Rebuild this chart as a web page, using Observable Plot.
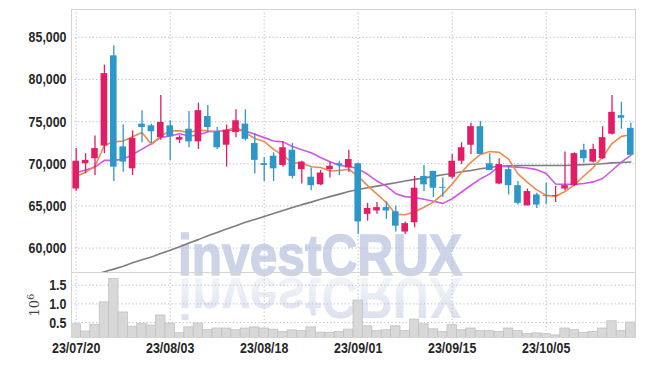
<!DOCTYPE html>
<html><head><meta charset="utf-8">
<script src="https://cdn.jsdelivr.net/npm/d3@7"></script>
<script src="https://cdn.jsdelivr.net/npm/@observablehq/plot@0.6"></script>
<style>
body{margin:0;background:#fff;}
#wrap{position:relative;width:645px;height:366px;overflow:hidden;background:#fff;}
#wrap svg{position:absolute;left:0;}
</style></head><body><div id="wrap"></div>
<script>
const dates = ["23/07/20","23/07/21","23/07/24","23/07/25","23/07/26","23/07/27","23/07/28","23/07/31",
"23/08/01","23/08/02","23/08/03","23/08/04","23/08/07","23/08/08","23/08/09","23/08/10","23/08/11","23/08/14","23/08/16","23/08/17","23/08/18",
"23/08/21","23/08/22","23/08/23","23/08/24","23/08/25","23/08/28","23/08/29","23/08/30","23/08/31",
"23/09/01","23/09/04","23/09/05","23/09/06","23/09/07","23/09/08","23/09/11","23/09/12","23/09/13","23/09/14","23/09/15",
"23/09/18","23/09/19","23/09/20","23/09/21","23/09/22","23/09/25","23/09/26","23/09/27",
"23/10/04","23/10/05","23/10/06","23/10/10","23/10/11","23/10/12","23/10/13","23/10/16","23/10/17","23/10/18","23/10/19"];
const open = [67000,70000,70600,72100,82800,72000,69400,74700,74500,73100,
74500,72800,74100,72600,75600,73800,72200,73700,74700,72400,
70000,70900,69800,71600,69300,68400,67500,69300,70000,69500,
70000,64000,64400,64800,64300,61900,63000,68500,69100,67200,
68400,70300,72200,74400,70000,67600,69300,67400,65000,66300,
66200,66100,67000,67400,71600,70200,70600,73500,75700,74200];
const high = [71800,71200,73300,81700,84000,74600,73900,76300,74700,78100,
75100,73300,76200,77200,76900,74300,74600,76400,76400,73600,
70700,71300,72600,72400,70300,69500,69200,70200,70300,71600,
70100,65300,65400,65500,65000,63100,68500,69800,69100,68300,
71100,72500,74800,75000,71200,70600,69800,67900,67000,66500,
67700,67300,71400,71300,72300,72300,74400,78100,77300,74800];
const low = [66700,68800,68600,71200,67900,69000,68600,72500,72400,72800,
70400,72400,71900,71700,73700,71700,69600,73100,72700,68800,
67900,67900,69600,68200,67600,66800,67400,68300,68600,69000,
61600,63200,64000,63400,61900,61600,62400,66700,66000,66000,
68200,69900,71100,71100,69200,67500,66300,65100,65000,64700,
65200,65400,66800,67300,70100,70100,70500,73400,74100,71000];
const close = [70300,70400,71800,80700,69600,70200,73000,74300,73800,74900,
73200,73100,72600,76300,74300,71900,74000,75100,72900,70400,
69800,69400,71900,68500,70200,67400,68900,69700,69800,70500,
63100,64700,64800,64400,62600,62900,67100,67500,67100,67100,
70300,71900,74400,71100,69200,69900,67400,65300,66700,65100,
66100,66200,67400,71200,70600,71700,73100,76100,75400,71000];
const volume = [455000,260000,440000,1040000,1670000,770000,390000,470000,420000,690000,
470000,215000,370000,470000,300000,340000,340000,295000,340000,370000,
340000,310000,250000,290000,270000,370000,230000,220000,250000,310000,
1090000,400000,270000,295000,400000,270000,580000,455000,320000,250000,
430000,295000,340000,270000,270000,250000,340000,270000,190000,210000,
190000,155000,340000,295000,220000,250000,340000,535000,280000,500000];
const ma5 = [68500,69000,69700,72200,72600,72700,73200,73700,72300,73300,
73900,73900,73700,74000,73900,73800,73950,74350,73700,73000,
72650,71700,71000,70100,70100,69650,69550,69150,69200,69350,
68500,67400,66400,65400,64000,63950,64300,64850,65450,66400,
67600,69000,70200,71100,71450,71350,70550,68800,67800,66900,
66250,66150,66700,67500,68550,69550,70800,72400,73250,73450];
const ma10 = [68930,69250,69600,70400,70400,70550,71100,71730,72370,73120,
73300,73550,73300,73400,73800,73850,73950,74050,73900,73500,
73100,72700,72600,72050,71650,71300,70750,70250,69800,69700,
69400,68750,67950,67350,66450,66100,66000,65800,65550,65300,
65850,66650,67450,68200,68800,69700,69650,69600,69500,69300,
68850,67600,67550,67550,67650,67850,68250,69200,70200,71000];
const maLong = [null,null,56800,57200,57500,57850,58250,58600,58950,59350,
59750,60150,60600,61000,61450,61850,62250,62650,63050,63400,
63750,64100,64450,64800,65150,65450,65800,66100,66400,66700,
66950,67150,67350,67550,67750,67950,68150,68300,68500,68700,
68850,69050,69200,69400,69550,69700,69750,69800,69800,69800,
69800,69800,69800,69850,69900,69950,70000,70100,70150,70200];
const priceTicks = [60000,65000,70000,75000,80000,85000];
const volumeTicks = [0.5,1.0,1.5];
const dateTicks = ["23/07/20","23/08/03","23/08/18","23/09/01","23/09/15","23/10/05"];

const RED = "#e31c66", BLUE = "#2e97c9", GRID = "#b3b8d3";
const FONT = '"Liberation Sans",Arial,sans-serif';
const rows = dates.map((d, i) => ({date: d, open: open[i], high: high[i], low: low[i], close: close[i],
  volume: volume[i], ma5: ma5[i], ma10: ma10[i], maLong: maLong[i],
  color: close[i] >= open[i] ? RED : BLUE}));

const W = 645, ML = 71, MR = 10;
const xBase = {type: "band", domain: dates, padding: 0, align: 0.5, round: false};
const styleBase = {background: "transparent", fontFamily: FONT, fontSize: "15.5px", fontWeight: "bold", color: "#262626", overflow: "visible"};
const dash = "1.2,2.4";

const main = Plot.plot({
  width: W, height: 272, marginLeft: ML, marginRight: MR, marginTop: 9, marginBottom: 0,
  style: styleBase,
  color: {type: "identity"},
  x: {...xBase, axis: null},
  y: {domain: [57100, 88300], ticks: priceTicks, tickFormat: d3.format(","), tickSize: 0, tickPadding: 5, label: null},
  marks: [
    Plot.ruleY(priceTicks, {stroke: GRID, strokeDasharray: dash}),
    Plot.ruleX(dateTicks, {stroke: GRID, strokeDasharray: dash}),
    Plot.lineY(rows.filter(r => r.maLong != null), {x: "date", y: "maLong", stroke: "#7d7d7d", strokeWidth: 1.6, clip: true}),
    Plot.lineY(rows, {x: "date", y: "ma10", stroke: "#cf58e6", strokeWidth: 1.6}),
    Plot.lineY(rows, {x: "date", y: "ma5", stroke: "#ef8a4f", strokeWidth: 1.6}),
    Plot.ruleX(rows, {x: "date", y1: "low", y2: "high", stroke: "color", strokeWidth: 1.3}),
    Plot.barY(rows, {x: "date", y1: "open", y2: "close", fill: "color", insetLeft: 1.4, insetRight: 1.4}),
    Plot.frame({stroke: "#d3d3d3"})
  ]
});
main.style.top = "0px";

const vol = Plot.plot({
  width: W, height: 94, marginLeft: ML, marginRight: MR, marginTop: 0, marginBottom: 29,
  style: styleBase,
  x: {...xBase, ticks: dateTicks, tickSize: 0, tickPadding: 4, label: null},
  y: {domain: [0.1, 1.84], ticks: volumeTicks, tickFormat: d3.format(".1f"), tickSize: 0, tickPadding: 5, label: null},
  marks: [
    Plot.ruleY(volumeTicks, {stroke: GRID, strokeDasharray: dash}),
    Plot.ruleX(dateTicks, {stroke: GRID, strokeDasharray: dash}),
    Plot.barY(rows, {x: "date", y1: 0, y2: d => d.volume / 1e6, fill: "#d8d8d8", stroke: "#c2c2c2", strokeWidth: 0.8, clip: true}),
    Plot.frame({stroke: "#d3d3d3"})
  ]
});
vol.style.top = "272px";

// exponent label
const lbl = d3.select(vol).append("text")
  .attr("transform", "translate(39,33) rotate(-90)")
  .attr("text-anchor", "middle")
  .attr("font-family", '"DejaVu Serif","Liberation Serif",serif')
  .attr("font-weight", "normal")
  .attr("font-size", 13).attr("fill", "#444");
lbl.append("tspan").text("10");
lbl.append("tspan").attr("dy", -5).attr("font-size", 10).text("6");

// watermark behind the charts
const wm = d3.create("svg").attr("width", W).attr("height", 366).style("top", "0px");
const defs = wm.append("defs");
const g = defs.append("linearGradient").attr("id", "fade").attr("x1", 0).attr("y1", 0).attr("x2", 0).attr("y2", 1);
g.append("stop").attr("offset", "0").attr("stop-color", "#d3d8ea").attr("stop-opacity", 1);
g.append("stop").attr("offset", "1").attr("stop-color", "#e9ebf3").attr("stop-opacity", 0.4);
const wmText = (sel) => sel.attr("x", 178).attr("y", 275).attr("textLength", 284).attr("lengthAdjust", "spacingAndGlyphs")
  .attr("font-family", '"Liberation Sans",Arial,sans-serif').attr("font-weight", "bold").attr("font-size", 58)
  .attr("stroke-width", 1.5).text("investCRUX");
wm.append("text").call(wmText).attr("fill", "#ced4e8").attr("stroke", "#ced4e8");
wm.append("text").call(wmText).attr("fill", "url(#fade)").attr("transform", "translate(0,553) scale(1,-1)");

const wrap = document.getElementById("wrap");
wrap.appendChild(wm.node());
wrap.appendChild(main);
wrap.appendChild(vol);

// condense the axis tick labels
for (const svg of [main, vol]) {
  d3.select(svg).selectAll("g[aria-label^='y-axis'] text, g[aria-label^='x-axis'] text").each(function() {
    const len = this.getComputedTextLength();
    if (len > 0) {
      this.setAttribute("textLength", (len * 0.8).toFixed(1));
      this.setAttribute("lengthAdjust", "spacingAndGlyphs");
    }
  });
}
</script></body></html>
